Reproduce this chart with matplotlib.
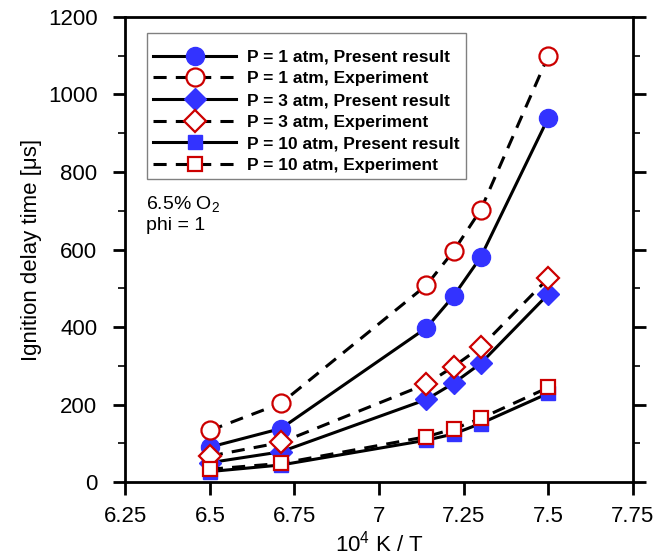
import matplotlib.pyplot as plt
from matplotlib.ticker import MultipleLocator

plt.rcParams['font.family'] = ['Liberation Sans', 'DejaVu Sans']
plt.rcParams['mathtext.fontset'] = 'custom'
plt.rcParams['mathtext.rm'] = 'Liberation Sans'

# 10^4 K / T
x = [6.5, 6.71, 7.14, 7.22, 7.30, 7.50]

# ignition delay times [us]
p1_model = [90, 138, 398, 480, 580, 940]
p1_exp = [133, 203, 508, 596, 702, 1100]
p3_model = [50, 78, 213, 255, 306, 485]
p3_exp = [67, 102, 253, 298, 348, 526]
p10_model = [27, 44, 108, 124, 151, 229]
p10_exp = [33, 48, 117, 137, 164, 244]

blue = '#3333ff'
red = '#cc0000'

fig = plt.figure(figsize=(6.59, 5.59), dpi=100)
ax = fig.add_axes([0.19, 0.1377, 0.7705, 0.8319])

dash = (4.3, 3)
ax.plot(x, p1_model, '-', color='k', lw=2.2, marker='o', ms=13,
        mfc=blue, mec=blue, label='P = 1 atm, Present result')
ax.plot(x, p1_exp, '--', color='k', lw=2.2, dashes=dash, marker='o', ms=13,
        mfc='white', mec=red, mew=1.6, label='P = 1 atm, Experiment')
ax.plot(x, p3_model, '-', color='k', lw=2.2, marker='D', ms=11,
        mfc=blue, mec=blue, label='P = 3 atm, Present result')
ax.plot(x, p3_exp, '--', color='k', lw=2.2, dashes=dash, marker='D', ms=11,
        mfc='white', mec=red, mew=1.6, label='P = 3 atm, Experiment')
ax.plot(x, p10_model, '-', color='k', lw=2.2, marker='s', ms=9.5,
        mfc=blue, mec=blue, label='P = 10 atm, Present result')
ax.plot(x, p10_exp, '--', color='k', lw=2.2, dashes=dash, marker='s', ms=9.5,
        mfc='white', mec=red, mew=1.6, label='P = 10 atm, Experiment')

ax.set_xlim(6.25, 7.75)
ax.set_ylim(0, 1200)
ax.yaxis.set_major_locator(MultipleLocator(200))
ax.yaxis.set_minor_locator(MultipleLocator(100))
ax.set_xticks([6.25, 6.5, 6.75, 7, 7.25, 7.5, 7.75])
ax.set_xticklabels(['6.25', '6.5', '6.75', '7', '7.25', '7.5', '7.75'])

ax.tick_params(axis='both', which='major', direction='out', length=9, width=2,
               labelsize=16)
ax.tick_params(axis='x', which='major', pad=8.5)
ax.tick_params(axis='y', which='major', pad=11)
ax.tick_params(axis='y', which='minor', direction='out', length=5, width=1.2)
ax.tick_params(axis='y', which='both', right=True)
for s in ax.spines.values():
    s.set_linewidth(2)

ax.set_xlabel('10$^4$ K / T', fontsize=16, labelpad=2)
ax.set_ylabel('Ignition delay time [\u03bcs]', fontsize=16, labelpad=4)

ax.text(0.041, 0.585, '6.5% O$_2$', transform=ax.transAxes,
        fontsize=14, va='baseline', ha='left')
ax.text(0.041, 0.542, 'phi = 1', transform=ax.transAxes,
        fontsize=14, va='baseline', ha='left')

leg = ax.legend(loc='upper left', bbox_to_anchor=(0.043, 0.9656),
                borderaxespad=0, prop={'weight': 'bold', 'size': 12.5},
                handlelength=4.8, labelspacing=0.375, fancybox=False,
                framealpha=1, edgecolor='#808080', borderpad=0.35,
                handletextpad=0.6, title=' ', title_fontsize=2)
leg.get_frame().set_linewidth(1)

fig.savefig('out.png', dpi=100)
